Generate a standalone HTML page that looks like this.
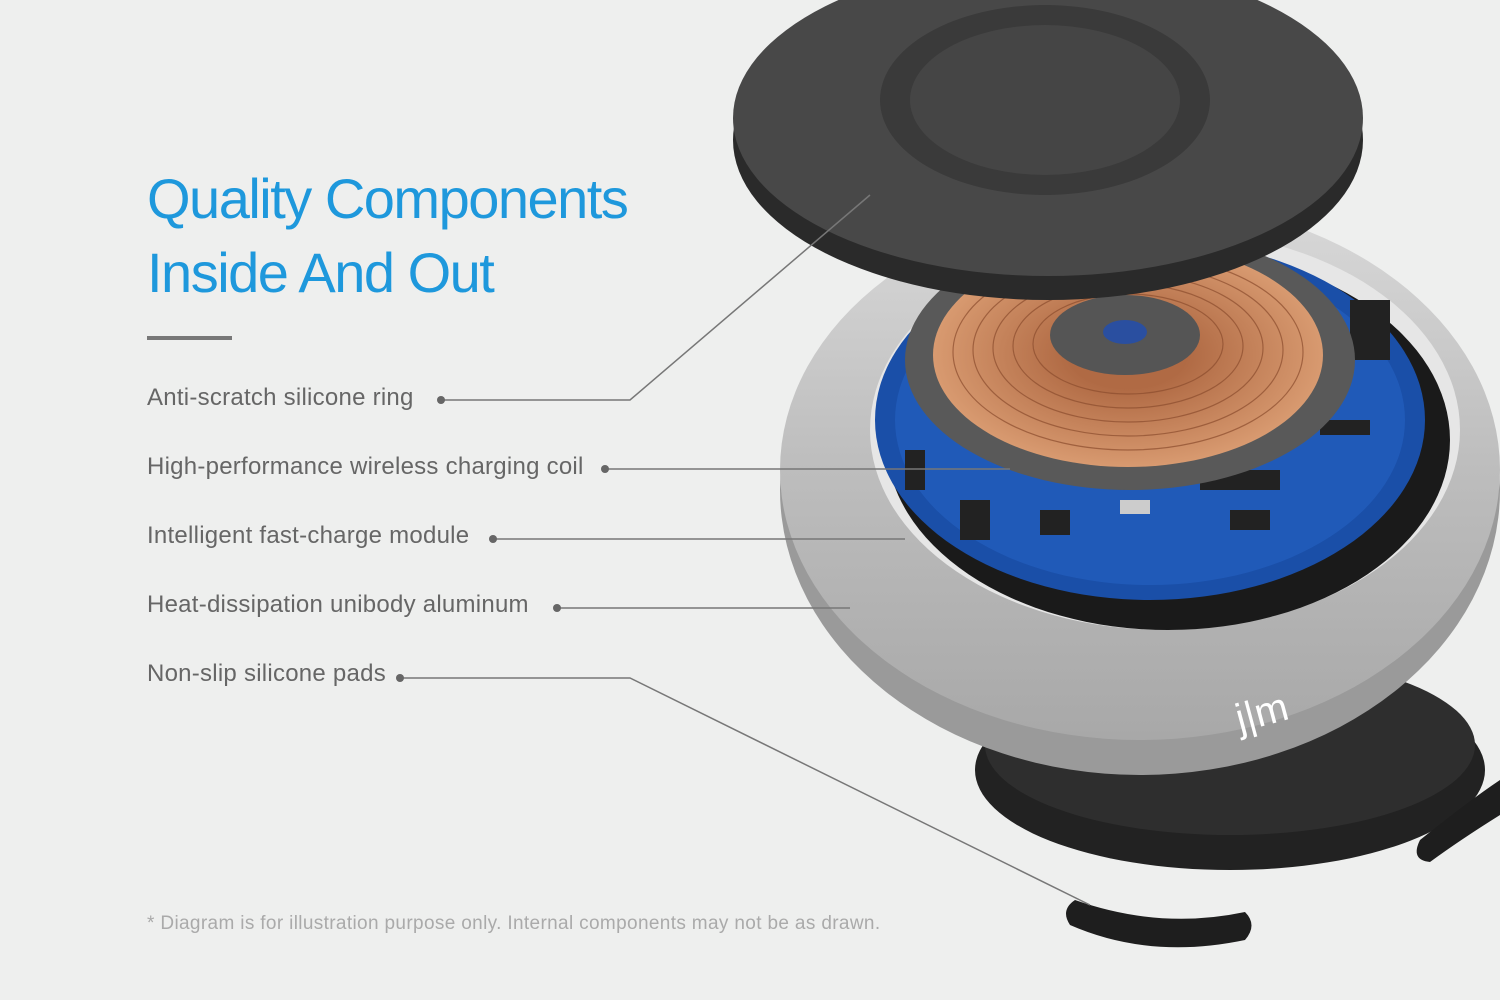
<!DOCTYPE html>
<html><head><meta charset="utf-8">
<style>
html,body{margin:0;padding:0;background:#eeefee;}
#c{position:relative;width:1500px;height:1000px;overflow:hidden;background:#eeefee;font-family:"Liberation Sans",sans-serif;}
.t{position:absolute;left:147px;color:#1e98dc;font-size:56px;letter-spacing:-1.5px;font-weight:normal;}
.l{position:absolute;left:147px;color:#666;font-size:24px;letter-spacing:0.25px;}
</style></head><body><div id="c">
<svg width="1500" height="1000" style="position:absolute;left:0;top:0">
<defs>
<linearGradient id="al" x1="0" y1="0" x2="0" y2="1"><stop offset="0" stop-color="#d9d9d9"/><stop offset="0.5" stop-color="#bdbdbd"/><stop offset="1" stop-color="#a8a8a8"/></linearGradient>
<radialGradient id="cu" cx="0.5" cy="0.5" r="0.5"><stop offset="0.3" stop-color="#b06a44"/><stop offset="1" stop-color="#d89a70"/></radialGradient>
</defs>
<ellipse cx="1230" cy="770" rx="255" ry="100" fill="#222"/>
<ellipse cx="1230" cy="745" rx="245" ry="90" fill="#2e2e2e"/>
<path d="M1420 840 Q1470 800 1500 780 L1500 815 Q1460 840 1430 862 Q1410 860 1420 840Z" fill="#1e1e1e"/>
<path d="M1075 900 Q1160 930 1245 912 Q1258 925 1245 940 Q1150 960 1070 925 Q1060 910 1075 900Z" fill="#1e1e1e"/>
<ellipse cx="1140" cy="490" rx="360" ry="285" fill="#9a9a9a"/>
<ellipse cx="1140" cy="470" rx="360" ry="270" fill="url(#al)"/>
<ellipse cx="1165" cy="430" rx="295" ry="200" fill="#e6e6e6"/>
<ellipse cx="1168" cy="440" rx="282" ry="190" fill="#1a1a1a"/>
<ellipse cx="1150" cy="420" rx="275" ry="180" fill="#1a4fa8"/>
<ellipse cx="1150" cy="420" rx="255" ry="165" fill="#2460bf" opacity="0.7"/>
<g fill="#222">
<rect x="1200" y="470" width="80" height="20"/><rect x="1120" y="500" width="30" height="14" fill="#ccc"/>
<rect x="960" y="500" width="30" height="40"/><rect x="1040" y="510" width="30" height="25"/>
<rect x="1350" y="300" width="40" height="60"/><rect x="1320" y="420" width="50" height="15"/>
<rect x="905" y="450" width="20" height="40"/><rect x="1230" y="510" width="40" height="20"/>
</g>
<ellipse cx="1130" cy="360" rx="225" ry="130" fill="#595959"/>
<ellipse cx="1128" cy="355" rx="195" ry="112" fill="url(#cu)"/>
<g fill="none" stroke="#8c4d2e" stroke-width="1.2" opacity="0.7">
<ellipse cx="1128" cy="352" rx="175" ry="98"/><ellipse cx="1128" cy="350" rx="155" ry="86"/><ellipse cx="1128" cy="348" rx="135" ry="74"/><ellipse cx="1128" cy="346" rx="115" ry="62"/><ellipse cx="1128" cy="344" rx="95" ry="50"/>
</g>
<ellipse cx="1125" cy="335" rx="75" ry="40" fill="#555"/>
<ellipse cx="1125" cy="332" rx="22" ry="12" fill="#2a4fa0"/>
<text x="1235" y="725" fill="#fff" font-size="40" font-family="Liberation Sans" transform="rotate(-15 1265 710)">j|m</text>
<ellipse cx="1048" cy="140" rx="315" ry="160" fill="#2a2a2a"/>
<ellipse cx="1048" cy="118" rx="315" ry="158" fill="#484848"/>
<ellipse cx="1045" cy="100" rx="165" ry="95" fill="#3a3a3a"/>
<ellipse cx="1045" cy="100" rx="135" ry="75" fill="#454545"/>
<g stroke="#777" stroke-width="1.5" fill="none">
<polyline points="441,400 630,400 870,195"/>
<line x1="605" y1="469" x2="1010" y2="469"/>
<line x1="493" y1="539" x2="905" y2="539"/>
<line x1="557" y1="608" x2="850" y2="608"/>
<polyline points="400,678 630,678 1090,905"/>
</g>
<g fill="#666"><circle cx="441" cy="400" r="4"/><circle cx="605" cy="469" r="4"/><circle cx="493" cy="539" r="4"/><circle cx="557" cy="608" r="4"/><circle cx="400" cy="678" r="4"/></g>
<rect x="147" y="336" width="85" height="4" fill="#777"/>
</svg>
<div class="t" style="top:166px">Quality Components</div>
<div class="t" style="top:240px">Inside And Out</div>
<div class="l" style="top:384px">Anti-scratch silicone ring</div>
<div class="l" style="top:453px">High-performance wireless charging coil</div>
<div class="l" style="top:522px">Intelligent fast-charge module</div>
<div class="l" style="top:591px">Heat-dissipation unibody aluminum</div>
<div class="l" style="top:660px">Non-slip silicone pads</div>
<div class="l" style="top:913px;font-size:19px;color:#aaa;letter-spacing:0.35px">* Diagram is for illustration purpose only. Internal components may not be as drawn.</div>
</div></body></html>
